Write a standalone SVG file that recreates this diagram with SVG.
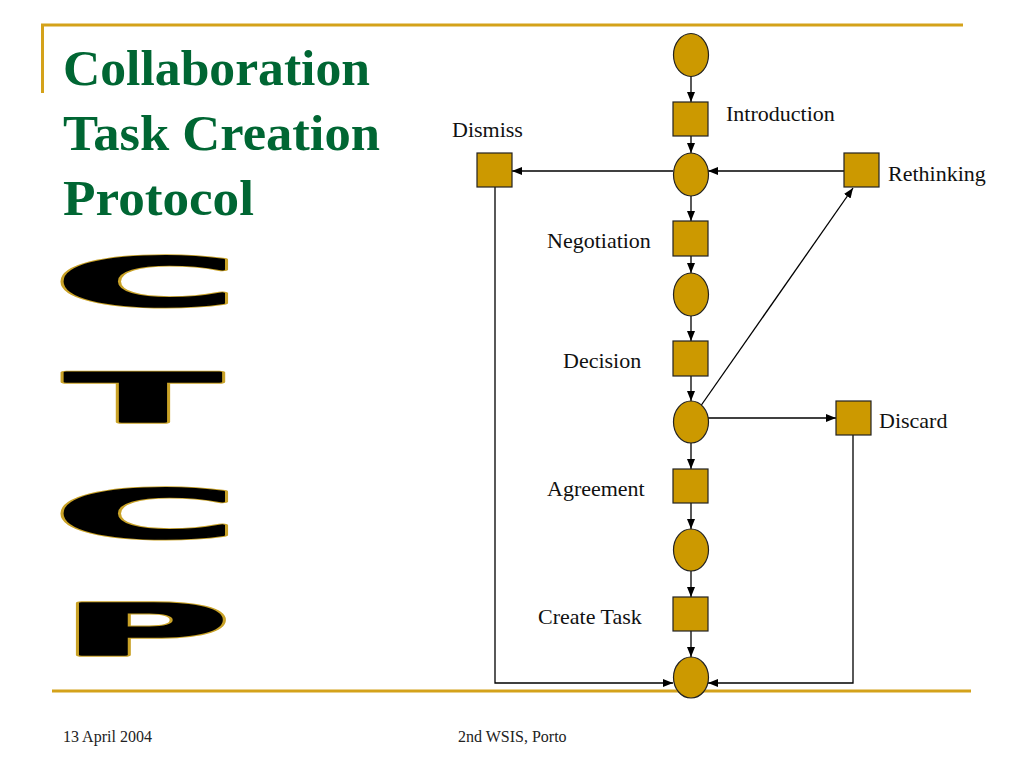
<svg xmlns="http://www.w3.org/2000/svg" width="1024" height="768" viewBox="0 0 1024 768">
<style>
.rule{stroke:#D4A21A;stroke-width:3;fill:none}
.place{fill:#CC9900;stroke:#222;stroke-width:1.2}
.trans{fill:#CC9900;stroke:#222;stroke-width:1.2}
.lbl{font-family:"Liberation Serif","Times New Roman",serif;font-size:22px;fill:#111}
.title{font-family:"Liberation Serif","Times New Roman",serif;font-size:51px;font-weight:bold;fill:#006633}
.foot{font-family:"Liberation Serif","Times New Roman",serif;font-size:16px;fill:#222}
.big{font-family:"DejaVu Sans",sans-serif;font-weight:bold;text-anchor:middle}
.gold{fill:#C9A227;stroke:#C9A227;stroke-width:8.5;stroke-linejoin:round}
.blk{fill:#000;stroke:#000;stroke-width:4;stroke-linejoin:round}
.edge{stroke:#000;stroke-width:1.3;fill:none;marker-end:url(#ah)}
</style>
<defs>
<marker id="ah" markerWidth="10" markerHeight="8" refX="10" refY="4" orient="auto" markerUnits="userSpaceOnUse">
<path d="M0,0 L10,4 L0,8 z" fill="#000"/>
</marker>
</defs>
<rect width="1024" height="768" fill="#fff"/>
<g id="frame">
<path class="rule" d="M42.5,93 V25 H963"/>
<path class="rule" d="M52,691 H971"/>
</g>
<g id="title">
<text class="title" x="63" y="85" textLength="307" lengthAdjust="spacingAndGlyphs">Collaboration</text>
<text class="title" x="63" y="150" textLength="317" lengthAdjust="spacingAndGlyphs">Task Creation</text>
<text class="title" x="63" y="215" textLength="191" lengthAdjust="spacingAndGlyphs">Protocol</text>
</g>
<g id="wordart">
<g transform="translate(146,306) scale(3.7,1)">
<text class="big gold" font-size="68" vector-effect="non-scaling-stroke">C</text>
<text class="big blk" font-size="68" vector-effect="non-scaling-stroke">C</text>
</g>
<g transform="translate(143,422) scale(3.35,1)">
<text class="big gold" font-size="68" vector-effect="non-scaling-stroke">T</text>
<text class="big blk" font-size="68" vector-effect="non-scaling-stroke">T</text>
</g>
<g transform="translate(146,538) scale(3.7,1)">
<text class="big gold" font-size="68" vector-effect="non-scaling-stroke">C</text>
<text class="big blk" font-size="68" vector-effect="non-scaling-stroke">C</text>
</g>
<g transform="translate(145,655) scale(3.25,1)">
<text class="big gold" font-size="71" vector-effect="non-scaling-stroke">P</text>
<text class="big blk" font-size="71" vector-effect="non-scaling-stroke">P</text>
</g>
</g>
<g id="connectors">
<path class="edge" d="M691,76 V102"/>
<path class="edge" d="M691,136 V153"/>
<path class="edge" d="M673,171 H512"/>
<path class="edge" d="M844,171 H708"/>
<path class="edge" d="M691,196 V221"/>
<path class="edge" d="M691,256 V273"/>
<path class="edge" d="M691,316 V341"/>
<path class="edge" d="M691,376 V401"/>
<path class="edge" d="M700,407 L853,188"/>
<path class="edge" d="M708,418 H836"/>
<path class="edge" d="M691,443 V469"/>
<path class="edge" d="M691,503 V529"/>
<path class="edge" d="M691,571 V597"/>
<path class="edge" d="M691,631 V657"/>
<path class="edge" d="M853,435 V683 H708"/>
<path class="edge" d="M495,187 V683 H673"/>
</g>
<g id="p0"><ellipse class="place" cx="691" cy="55" rx="17.5" ry="21.5"/></g>
<g id="introduction"><rect class="trans" x="673" y="102" width="35" height="34"/><text class="lbl" x="726" y="121">Introduction</text></g>
<g id="p1"><ellipse class="place" cx="691" cy="174.5" rx="17.5" ry="21.5"/></g>
<g id="dismiss"><rect class="trans" x="477" y="153" width="35" height="34"/><text class="lbl" x="452" y="137">Dismiss</text></g>
<g id="rethinking"><rect class="trans" x="844" y="153" width="35" height="34"/><text class="lbl" x="888" y="181">Rethinking</text></g>
<g id="negotiation"><rect class="trans" x="673" y="221" width="35" height="35"/><text class="lbl" x="547" y="248">Negotiation</text></g>
<g id="p2"><ellipse class="place" cx="691" cy="294.5" rx="17.5" ry="21.5"/></g>
<g id="decision"><rect class="trans" x="673" y="341" width="35" height="35"/><text class="lbl" x="563" y="368">Decision</text></g>
<g id="p3"><ellipse class="place" cx="691" cy="422" rx="17.5" ry="21"/></g>
<g id="discard"><rect class="trans" x="836" y="401" width="35" height="34"/><text class="lbl" x="879" y="428">Discard</text></g>
<g id="agreement"><rect class="trans" x="673" y="469" width="35" height="34"/><text class="lbl" x="547" y="496">Agreement</text></g>
<g id="p4"><ellipse class="place" cx="691" cy="550" rx="17.5" ry="21"/></g>
<g id="createtask"><rect class="trans" x="673" y="597" width="35" height="34"/><text class="lbl" x="538" y="624">Create Task</text></g>
<g id="p5"><ellipse class="place" cx="691" cy="677.5" rx="17.5" ry="20.5"/></g>
<g id="footer">
<text class="foot" x="63" y="742">13 April 2004</text>
<text class="foot" x="458" y="742">2nd WSIS, Porto</text>
</g>
</svg>
